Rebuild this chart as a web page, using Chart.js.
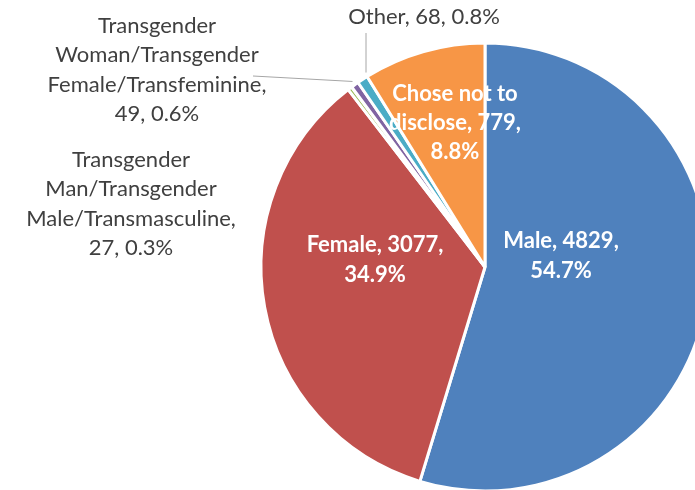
<!DOCTYPE html>
<html>
<head>
<meta charset="utf-8">
<script src="https://cdn.jsdelivr.net/npm/chart.js@4/dist/chart.umd.min.js"></script>
<style>
    html, body { margin: 0; padding: 0; background: #fff; overflow: hidden; width: 695px; height: 490px; }
    #wrap { position: absolute; left: 0; top: 0; width: 970px; height: 534px; }
</style>
</head>
<body>
<div id="wrap"><canvas id="genderChart" width="970" height="534"></canvas></div>
<script>
// Dane wykresu
const categories = ['Male', 'Female', 'Transgender Man/Transgender Male/Transmasculine',
    'Transgender Woman/Transgender Female/Transfeminine', 'Other', 'Chose not to disclose'];
const counts = [4829, 3077, 27, 49, 68, 779];
const percents = ['54.7%', '34.9%', '0.3%', '0.6%', '0.8%', '8.8%'];
const sliceColors = ['#4F81BD', '#C0504D', '#9BBB59', '#8064A2', '#4BACC6', '#F79646'];

// Tekst etykiet (łamanie linii jak w oryginale)
const labelLines = [
    [`Male, ${counts[0]},`, percents[0]],
    [`Female, ${counts[1]},`, percents[1]],
    ['Transgender', 'Man/Transgender', 'Male/Transmasculine,', `${counts[2]}, ${percents[2]}`],
    ['Transgender', 'Woman/Transgender', 'Female/Transfeminine,', `${counts[3]}, ${percents[3]}`],
    [`Other, ${counts[4]}, ${percents[4]}`],
    ['Chose not to', `disclose, ${counts[5]},`, percents[5]]
];

// Układ etykiet: przesunięcie środka bloku tekstu względem środka koła
const labelOffsets = [[76, -11], [-110, -7], [-354, -63], [-328, -197], [-61, -250], [-30, -144]];
const labelInside = [true, true, false, false, false, true];
// Początek linii odniesienia (względem środka), null = brak linii
const leaderStarts = [null, null, null, [-232, -191], [-119, -234], null];
// 'mid' = do środka wycinka, 'vertical' = pionowo w dół do krawędzi
const leaderModes = [null, null, null, 'mid', 'vertical', null];

const FONT = 'Lato, "Open Sans", sans-serif';
const LINE_H = 29.3;

const sliceLabels = {
    id: 'sliceLabels',
    afterDatasetsDraw(chart) {
        const ctx = chart.ctx;
        const meta = chart.getDatasetMeta(0);
        meta.data.forEach((arc, i) => {
            const p = arc.getProps(['x', 'y', 'startAngle', 'endAngle', 'outerRadius'], true);
            ctx.save();
            // linia odniesienia
            if (leaderStarts[i]) {
                const sx = p.x + leaderStarts[i][0];
                const sy = p.y + leaderStarts[i][1];
                const r = p.outerRadius + 4;
                let ex, ey;
                if (leaderModes[i] === 'vertical') {
                    const dx = sx - p.x;
                    ex = sx;
                    ey = p.y - Math.sqrt(r * r - dx * dx);
                } else {
                    const mid = (p.startAngle + p.endAngle) / 2;
                    ex = p.x + Math.cos(mid) * r;
                    ey = p.y + Math.sin(mid) * r;
                }
                ctx.strokeStyle = '#A6A6A6';
                ctx.lineWidth = 1;
                ctx.beginPath();
                ctx.moveTo(sx, sy);
                ctx.lineTo(ex, ey);
                ctx.stroke();
            }
            const lines = labelLines[i];
            const cx = p.x + labelOffsets[i][0];
            const cy = p.y + labelOffsets[i][1];
            ctx.font = (labelInside[i] ? 'bold ' : '') + '22px ' + FONT;
            ctx.fillStyle = labelInside[i] ? '#FFFFFF' : '#404040';
            ctx.textAlign = 'center';
            ctx.textBaseline = 'middle';
            const top = cy - (lines.length - 1) * LINE_H / 2;
            lines.forEach((t, k) => ctx.fillText(t, cx, top + k * LINE_H));
            ctx.restore();
        });
    }
};

const chartCtx = document.getElementById('genderChart').getContext('2d');
new Chart(chartCtx, {
    type: 'pie',
    data: {
        labels: categories,
        datasets: [{
            data: counts,
            backgroundColor: sliceColors,
            borderColor: '#FFFFFF',
            borderWidth: 3
        }]
    },
    options: {
        responsive: false,
        animation: false,
        radius: 224,
        layout: { padding: 0 },
        plugins: {
            legend: { display: false },
            tooltip: { enabled: false }
        }
    },
    plugins: [sliceLabels]
});
</script>
</body>
</html>
